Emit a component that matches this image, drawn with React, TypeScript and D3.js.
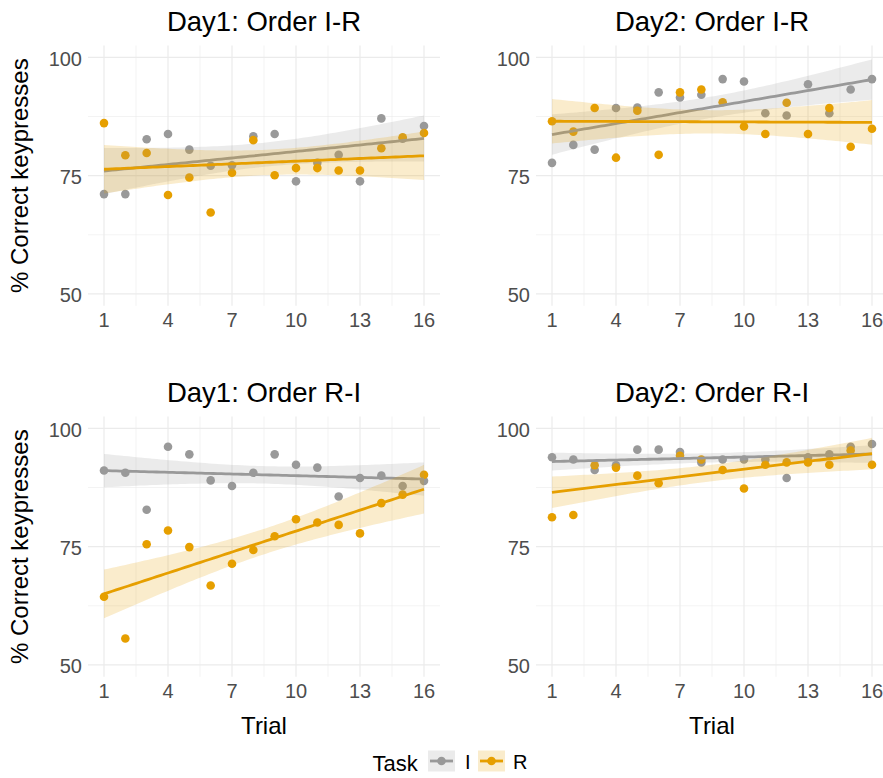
import React, { useRef, useEffect } from "react";
import * as d3 from "d3";

// Trial numbers on the x axis
const trials = [1, 2, 3, 4, 5, 6, 7, 8, 9, 10, 11, 12, 13, 14, 15, 16];

// % correct keypresses per trial
const day1IR_I = [71.1, 71.1, 82.7, 83.8, 80.5, 77.1, 77.2, 83.3, 83.8, 73.8, 77.7, 79.4, 73.8, 87.1, 82.8, 85.5];
const day1IR_R = [86.1, 79.3, 79.8, 70.9, 74.6, 67.2, 75.6, 82.5, 75.1, 76.6, 76.6, 76.1, 76.1, 80.8, 83.1, 84.0];
const day2IR_I = [77.7, 81.5, 80.5, 89.3, 89.4, 92.6, 91.5, 92.1, 95.4, 94.9, 88.2, 87.7, 94.3, 88.2, 93.2, 95.4];
const day2IR_R = [86.5, 84.3, 89.3, 78.8, 88.7, 79.4, 92.6, 93.2, 90.5, 85.4, 83.8, 90.4, 83.8, 89.3, 81.1, 84.9];
const day1RI_I = [91.1, 90.6, 82.8, 96.1, 94.5, 89.0, 87.8, 90.6, 94.5, 92.3, 91.7, 85.6, 89.5, 90.0, 87.8, 88.9];
const day1RI_R = [64.4, 55.6, 75.5, 78.4, 74.9, 66.8, 71.4, 74.3, 77.2, 80.8, 80.1, 79.6, 77.8, 84.2, 86.0, 90.2];
const day2RI_I = [93.9, 93.4, 91.2, 92.2, 95.5, 95.5, 95.0, 92.8, 93.4, 93.4, 93.4, 89.5, 93.9, 94.5, 96.1, 96.7];
const day2RI_R = [81.2, 81.7, 92.2, 91.7, 90.0, 88.4, 94.2, 93.4, 91.2, 87.3, 92.3, 92.8, 92.8, 92.3, 95.3, 92.3];

const panelTitles = ["Day1: Order I-R", "Day2: Order I-R", "Day1: Order R-I", "Day2: Order R-I"];
const tasks = ["I", "R"];
const taskColors = ["#999999", "#E69F00"];
const xTicks = [1, 4, 7, 10, 13, 16];
const xMinor = [2.5, 5.5, 8.5, 11.5, 14.5];
const yTicks = [50, 75, 100];
const yMinor = [62.5, 87.5];

// linear model fit with 95% confidence band (like geom_smooth(method = "lm"))
function lmBand(xs: number[], ys: number[], grid: number[]) {
  const n = xs.length;
  const mx = d3.mean(xs) as number;
  const my = d3.mean(ys) as number;
  let sxx = 0, sxy = 0;
  xs.forEach((x, i) => {
    sxx += (x - mx) ** 2;
    sxy += (x - mx) * (ys[i] - my);
  });
  const b = sxy / sxx;
  const a = my - b * mx;
  let sse = 0;
  xs.forEach((x, i) => (sse += (ys[i] - (a + b * x)) ** 2));
  const s2 = sse / (n - 2);
  const t = 2.1448; // qt(0.975, 14)
  return grid.map((x) => {
    const fit = a + b * x;
    const se = Math.sqrt(s2 * (1 / n + (x - mx) ** 2 / sxx));
    return { x, fit, lo: fit - t * se, hi: fit + t * se };
  });
}

const App = () => {
  const svgRef = useRef<SVGSVGElement>(null);

  useEffect(() => {
    const svg = d3.select(svgRef.current);
    svg.selectAll("*").remove();

    const panels = [
      { title: panelTitles[0], series: [day1IR_I, day1IR_R], left: 88, top: 45.5, yLab: true, xLab: false },
      { title: panelTitles[1], series: [day2IR_I, day2IR_R], left: 536, top: 45.5, yLab: false, xLab: false },
      { title: panelTitles[2], series: [day1RI_I, day1RI_R], left: 88, top: 416.5, yLab: true, xLab: true },
      { title: panelTitles[3], series: [day2RI_I, day2RI_R], left: 536, top: 416.5, yLab: false, xLab: true },
    ];
    const pw = 352;
    const ph = 260.3;
    const grid = d3.range(80).map((i) => 1 + (15 * i) / 79);
    const font = "'Liberation Sans', Arial, sans-serif";

    panels.forEach((p) => {
      const x = d3.scaleLinear().domain([0.25, 16.75]).range([p.left, p.left + pw]);
      const y = d3.scaleLinear().domain([47.5, 102.5]).range([p.top + ph, p.top]);
      const g = svg.append("g");

      // grid
      g.selectAll(".ym")
        .data(yMinor)
        .enter()
        .append("line")
        .attr("x1", p.left).attr("x2", p.left + pw)
        .attr("y1", (d) => y(d)).attr("y2", (d) => y(d))
        .attr("stroke", "#ebebeb").attr("stroke-width", 0.6);
      g.selectAll(".xm")
        .data(xMinor)
        .enter()
        .append("line")
        .attr("x1", (d) => x(d)).attr("x2", (d) => x(d))
        .attr("y1", p.top).attr("y2", p.top + ph)
        .attr("stroke", "#ebebeb").attr("stroke-width", 0.6);
      g.selectAll(".yM")
        .data(yTicks)
        .enter()
        .append("line")
        .attr("x1", p.left).attr("x2", p.left + pw)
        .attr("y1", (d) => y(d)).attr("y2", (d) => y(d))
        .attr("stroke", "#ebebeb").attr("stroke-width", 1.2);
      g.selectAll(".xM")
        .data(xTicks)
        .enter()
        .append("line")
        .attr("x1", (d) => x(d)).attr("x2", (d) => x(d))
        .attr("y1", p.top).attr("y2", p.top + ph)
        .attr("stroke", "#ebebeb").attr("stroke-width", 1.2);

      // tick labels
      g.selectAll(".yt")
        .data(yTicks)
        .enter()
        .append("text")
        .attr("x", p.left - 6)
        .attr("y", (d) => y(d))
        .attr("dy", "0.42em")
        .attr("text-anchor", "end")
        .attr("font-family", font)
        .attr("font-size", 20)
        .attr("fill", "#4d4d4d")
        .text((d) => d);
      g.selectAll(".xt")
        .data(xTicks)
        .enter()
        .append("text")
        .attr("x", (d) => x(d))
        .attr("y", p.top + ph + 21)
        .attr("text-anchor", "middle")
        .attr("font-family", font)
        .attr("font-size", 20)
        .attr("fill", "#4d4d4d")
        .text((d) => d);

      // title
      g.append("text")
        .attr("x", p.left + pw / 2)
        .attr("y", p.top - 15)
        .attr("text-anchor", "middle")
        .attr("font-family", font)
        .attr("font-size", 27.5)
        .attr("fill", "#000")
        .text(p.title);

      if (p.yLab) {
        g.append("text")
          .attr("transform", `translate(28,${p.top + ph / 2}) rotate(-90)`)
          .attr("text-anchor", "middle")
          .attr("font-family", font)
          .attr("font-size", 24)
          .attr("fill", "#000")
          .text("% Correct keypresses");
      }
      if (p.xLab) {
        g.append("text")
          .attr("x", p.left + pw / 2)
          .attr("y", p.top + ph + 57)
          .attr("text-anchor", "middle")
          .attr("font-family", font)
          .attr("font-size", 24)
          .attr("fill", "#000")
          .text("Trial");
      }

      // points
      p.series.forEach((vals, k) => {
        g.selectAll(`.pt${k}`)
          .data(vals)
          .enter()
          .append("circle")
          .attr("cx", (d, i) => x(trials[i]))
          .attr("cy", (d) => y(d))
          .attr("r", 4.3)
          .attr("fill", taskColors[k]);
      });

      // smooth: ribbon + line per task
      p.series.forEach((vals, k) => {
        const band = lmBand(trials, vals, grid);
        const area = d3
          .area<{ x: number; lo: number; hi: number }>()
          .x((d) => x(d.x))
          .y0((d) => y(d.lo))
          .y1((d) => y(d.hi));
        const line = d3
          .line<{ x: number; fit: number }>()
          .x((d) => x(d.x))
          .y((d) => y(d.fit));
        g.append("path")
          .attr("d", area(band))
          .attr("fill", taskColors[k])
          .attr("fill-opacity", 0.2);
        g.append("path")
          .attr("d", line(band))
          .attr("fill", "none")
          .attr("stroke", taskColors[k])
          .attr("stroke-width", 2.8);
      });
    });

    // legend
    const lg = svg.append("g");
    lg.append("text")
      .attr("x", 372.5)
      .attr("y", 771)
      .attr("font-family", font)
      .attr("font-size", 22)
      .attr("fill", "#000")
      .text("Task");
    const keyX = [428, 478];
    const labX = [465, 513];
    tasks.forEach((t, k) => {
      lg.append("rect")
        .attr("x", keyX[k]).attr("y", 750.5)
        .attr("width", 27).attr("height", 21)
        .attr("fill", taskColors[k]).attr("fill-opacity", 0.2);
      lg.append("line")
        .attr("x1", keyX[k] + 2).attr("x2", keyX[k] + 25)
        .attr("y1", 761).attr("y2", 761)
        .attr("stroke", taskColors[k]).attr("stroke-width", 2.8);
      lg.append("circle")
        .attr("cx", keyX[k] + 13.5).attr("cy", 761)
        .attr("r", 4.3).attr("fill", taskColors[k]);
      lg.append("text")
        .attr("x", labX[k])
        .attr("y", 769)
        .attr("font-family", font)
        .attr("font-size", 20)
        .attr("fill", "#000")
        .text(t);
    });
  }, []);

  return (
    <svg
      ref={svgRef}
      width={883}
      height={778}
      style={{ position: "absolute", left: 0, top: 0, background: "#fff" }}
    ></svg>
  );
};

export default App;
